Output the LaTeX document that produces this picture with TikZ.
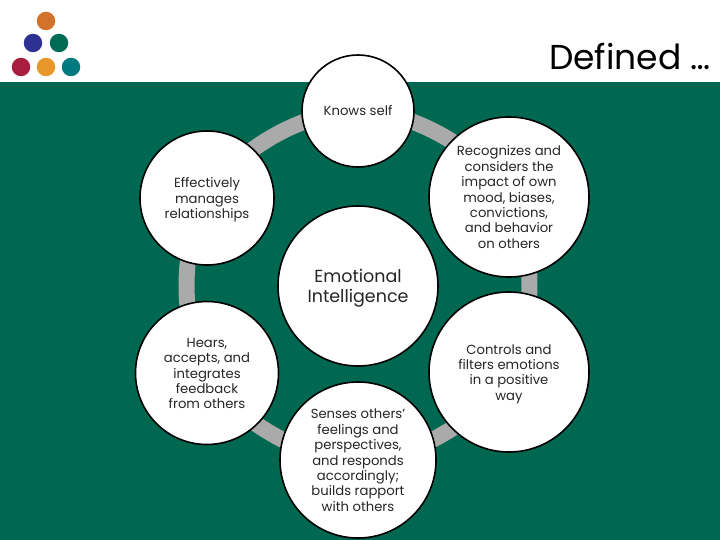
\documentclass[tikz,border=0pt]{standalone}
\usepackage{fontspec}
\setmainfont{Poppins}
\usepackage{tikz}
\usetikzlibrary{backgrounds}
\usetikzlibrary{calc}
\definecolor{slidegreen}{RGB}{0,104,80}
\definecolor{ringgray}{RGB}{170,170,170}
\definecolor{dotorange}{RGB}{210,114,43}
\definecolor{dotblue}{RGB}{46,49,146}
\definecolor{dotgreen}{RGB}{0,107,84}
\definecolor{dotred}{RGB}{168,30,63}
\definecolor{dotyellow}{RGB}{232,152,42}
\definecolor{dotteal}{RGB}{0,121,127}
\newcommand{\lift}[1][15pt]{\rule{0pt}{#1}}
\tikzset{
	bubble/.style={circle, draw=black, line width=1.6pt, fill=white, align=center, inner sep=0pt, text=black!85, font=\fontsize{13.2}{15.4}\selectfont, execute at end node=\strut},
	dot/.style={circle, fill=#1, inner sep=0pt, minimum size=18.5pt},
	ringpart/.style={draw=ringgray, line width=16pt, bend left=30, looseness=0.8}
}
\begin{document}
\begin{tikzpicture}[x=1pt,y=-1pt]
\useasboundingbox (0,0) rectangle (720,540);
\node[dot=dotorange] (d1) at (46,21) {};
\node[dot=dotblue] (d2) at (33,43) {};
\node[dot=dotgreen] (d3) at (59,43) {};
\node[dot=dotred] (d4) at (21,67) {};
\node[dot=dotyellow] (d5) at (46,67) {};
\node[dot=dotteal] (d6) at (71,67) {};
\node[anchor=base east, inner sep=0pt, font=\fontsize{34.5}{34.5}\selectfont] (title) at (711,70) {Defined …};
%\node[bubble, minimum size=160pt] (centre) at (358,285) {};
\node[bubble, minimum size=160pt, font=\fontsize{17.5}{20}\selectfont] (emotional) at (358,286) {\lift[18pt]Emotional\\Intelligence};
\node[bubble, minimum size=112pt] (self) at (358,111) {\lift[13pt]Knows self};
\node[bubble, minimum size=160pt] (impact) at (509,197) {\lift Recognizes and\\considers the\\impact of own\\mood, biases,\\convictions,\\and behavior\\on others};
\node[bubble, minimum size=160pt] (filters) at (509,372) {\lift Controls and\\filters emotions\\in a positive\\way};
\node[bubble, minimum size=156pt] (senses) at (358,460) {\lift Senses others’\\feelings and\\perspectives,\\and responds\\accordingly;\\builds rapport\\with others};
\node[bubble, minimum size=143pt] (hears) at (207,373) {\lift Hears,\\accepts, and\\integrates\\feedback\\from others};
\node[bubble, minimum size=134pt] (manages) at (207,198) {\lift Effectively\\manages\\relationships};
\begin{scope}[on background layer]
\fill[white] (0,0) rectangle (720,82);
\fill[slidegreen] (0,82) rectangle (720,540);
\path
(self.center) edge[ringpart] (impact.center)
(impact.center) edge[ringpart] (filters.center)
(filters.center) edge[ringpart] (senses.center)
(senses.center) edge[ringpart] (hears.center)
(hears.center) edge[ringpart] (manages.center)
(manages.center) edge[ringpart] (self.center)
;
\end{scope}
\end{tikzpicture}
\end{document}
